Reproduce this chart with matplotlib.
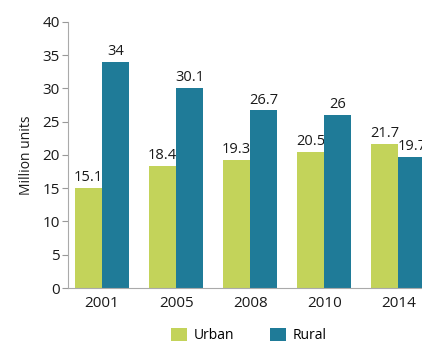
import matplotlib.pyplot as plt
import numpy as np

years = ["2001", "2005", "2008", "2010", "2014"]
urban = [15.1, 18.4, 19.3, 20.5, 21.7]
rural = [34, 30.1, 26.7, 26, 19.7]

plt.rcParams["font.family"] = ["Open Sans", "DejaVu Sans"]

green = "#c3d35a"
teal = "#1f7b98"
txt = "#1a1a1a"

fig = plt.figure(figsize=(4.22, 3.47), dpi=100)
ax = fig.add_axes([0.161, 0.170, 0.839, 0.767])

x = np.arange(len(years))
w = 0.365
ax.bar(x - w / 2, urban, w, color=green, zorder=1, label="Urban")
ax.bar(x + w / 2, rural, w, color=teal, zorder=2, label="Rural")

for xi, u, r in zip(x, urban, rural):
    ax.text(xi - w / 2, u + 0.4, f"{u:g}", ha="center", va="bottom",
            fontsize=10.5, color=txt, zorder=1.5)
    ax.text(xi + w / 2, r + 0.4, f"{r:g}", ha="center", va="bottom",
            fontsize=10.5, color=txt, zorder=3)

ax.set_xlim(-0.46, 4.32)
ax.set_ylim(0, 40)
ax.set_yticks(range(0, 41, 5))
ax.set_xticks(x)
ax.set_xticklabels(years)
ax.tick_params(axis="y", length=4, color="#999999", labelsize=11, labelcolor=txt, pad=2)
ax.tick_params(axis="x", length=0, labelsize=11, labelcolor=txt, pad=6)
for s in ["top", "right"]:
    ax.spines[s].set_visible(False)
ax.spines["left"].set_color("#aaaaaa")
ax.spines["bottom"].set_color("#aaaaaa")
ax.set_ylabel("Million units", fontsize=10, color=txt, labelpad=6)

fig.legend(loc="lower center", bbox_to_anchor=(0.59, -0.025), ncol=2, frameon=False,
           fontsize=10, handlelength=1.1, handleheight=1.1, columnspacing=2.6,
           handletextpad=0.5)

fig.savefig("out.png", dpi=100)
